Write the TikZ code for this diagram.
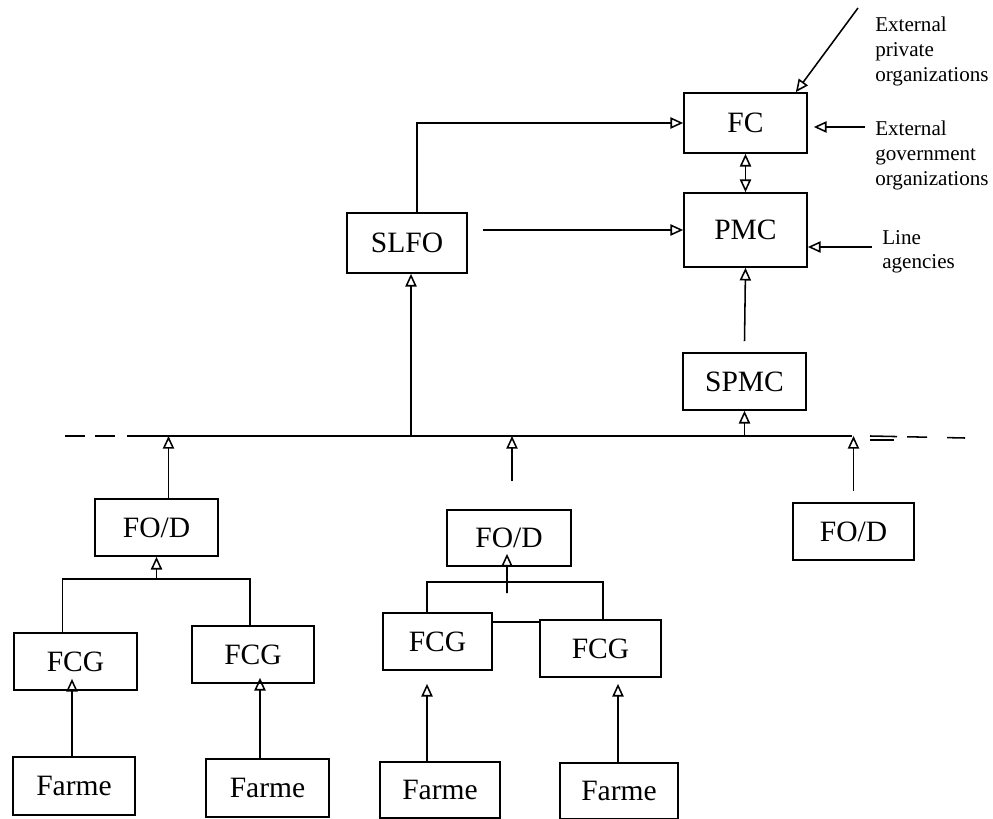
\documentclass[tikz,border=0pt]{standalone}
\usepackage{fontspec}
\setmainfont{Liberation Serif}
\usetikzlibrary{arrows.meta,calc}

\tikzset{
    unit/.style={draw, line width=1.2pt, minimum width=3.075cm, minimum height=1.425cm, inner sep=0pt, font=\fontsize{21}{25}\selectfont},
    link/.style={line width=1.1pt},
    arr/.style={link, -{Triangle[open,length=9pt,width=8pt]}},
    arrboth/.style={link, {Triangle[open,length=9pt,width=8pt]}-{Triangle[open,length=9pt,width=8pt]}},
    note/.style={align=left, inner sep=0pt, font=\fontsize{15}{17.5}\selectfont},
}

\begin{document}
\begin{tikzpicture}[x=0.025cm, y=-0.025cm]
    \useasboundingbox (0,0) rectangle (993,819);

    % Committees at the top
    \node[unit, minimum height=1.5cm] (fc) at (745.5,123) {FC};
    \node[unit, minimum height=1.85cm] (pmc) at (745.5,230) {PMC};
    \node[unit, minimum width=3cm, minimum height=1.5cm] (slfo) at (407,243) {SLFO};
    \node[unit] (spmc) at (744.5,381.5) {SPMC};

    % Outside bodies
    \node[note, anchor=north west] (extpriv) at (875,17) {External\\private\\organizations};
    \node[note, anchor=north west] (extgov) at (875,121) {External\\government\\organizations};
    \node[note, anchor=north west] (lineag) at (882,230) {Line\\agencies};
    \coordinate (privfrom) at (858,8);
    \coordinate (govfrom) at (865,127);
    \coordinate (linefrom) at (872,247);

    \draw[arr] (privfrom) -- ([xshift=-0.3cm]fc.north east);
    \draw[arr] (govfrom) -- ($(fc.east |- govfrom)+(6,0)$);
    \draw[arr] (linefrom) -- (pmc.east |- linefrom);

    \draw[arr] ([xshift=0.25cm]slfo.north) |- (fc.west);
    \draw[arr] ([xshift=0.375cm]slfo.east |- pmc.west) -- (pmc.west);
    \draw[arrboth] (fc.south) -- (pmc.north);
    \draw[arr] ([yshift=0.275cm]spmc.north) -- (pmc.south);

    % Draw the main line
    \coordinate (busLL) at (65,436);
    \coordinate (busL) at (127,436);
    \coordinate (busR) at (852,436);
    \coordinate (busRR) at (965,438);
    \draw[link, dash pattern=on 0.5cm off 0.25cm on 0.5cm off 0.3cm] (busLL) -- (busL);
    \draw[link] (busL) -- (busR);
    \draw[link, dash pattern=on 0.675cm off 0.25cm on 0.5cm off 0.5cm on 0.45cm] ($(busR)+(18,0)$) -- (busRR);
    \draw[link] ($(busR)+(18,4)$) -- ($(busR)+(42,4)$);

    \draw[arr] (spmc.south |- busL) -- (spmc.south);
    \draw[arr] ([xshift=0.1cm]slfo.south |- busL) -- ([xshift=0.1cm]slfo.south);

    % Federations
    \node[unit] (fod1) at (156.5,527.5) {FO/D};
    \node[unit, minimum width=3.1cm, minimum height=1.4cm] (fod2) at (509,538) {FO/D};
    \node[unit, minimum width=3.025cm] (fod3) at (853.5,531.5) {FO/D};

    \draw[arr] ([xshift=0.3cm]fod1.north) -- ([xshift=0.3cm]fod1.north |- busL);
    \draw[arr] ([xshift=0.075cm,yshift=0.7cm]fod2.north) -- ([xshift=0.075cm]fod2.north |- busL);
    \draw[arr] ([yshift=0.275cm]fod3.north) -- (fod3.north |- busL);

    % Groups and farmers
    \node[unit] (fcg1) at (75.5,661.5) {FCG};
    \node[unit, minimum width=3.05cm] (fcg2) at (253,654.5) {FCG};
    \node[unit, minimum width=2.725cm] (fcg3) at (437.5,641.5) {FCG};
    \node[unit, minimum width=3.025cm] (fcg4) at (600.5,648.5) {FCG};

    \node[unit, minimum width=3.05cm, minimum height=1.45cm] (farme1) at (74,786) {Farme};
    \node[unit, minimum height=1.45cm] (farme2) at (267.5,788) {Farme};
    \node[unit, minimum width=3cm, minimum height=1.4cm] (farme3) at (440,790) {Farme};
    \node[unit, minimum width=2.95cm, minimum height=1.4cm] (farme4) at (619,791) {Farme};

    \coordinate (join1) at (156.5,579);
    \draw[link] ([xshift=-0.325cm]fcg1.north) |- (join1) -| ([xshift=-0.075cm]fcg2.north);
    \draw[arr] (join1) -- (fod1.south);

    \coordinate (join2) at (507,582);
    \draw[link] ([xshift=-0.26cm]fcg3.north) |- (join2) -| ([xshift=0.06cm]fcg4.north);
    \draw[arr] ($(join2)+(0,11)$) -- ([xshift=-0.05cm,yshift=0.325cm]fod2.south);
    \draw[link] ([yshift=-0.25cm]fcg3.north east) -- ([yshift=-0.25cm]fcg3.north east -| fcg4.west);

    \coordinate (tip1) at ($(fcg1.south)+(-3.5,-12)$);
    \coordinate (tip2) at ($(fcg2.south)+(7,-6)$);
    \coordinate (tip3) at ($(fcg3.south)+(-10.5,13)$);
    \coordinate (tip4) at ($(fcg4.south)+(17.5,6)$);
    \draw[arr] (farme1.north -| tip1) -- (tip1);
    \draw[arr] (farme2.north -| tip2) -- (tip2);
    \draw[arr] (farme3.north -| tip3) -- (tip3);
    \draw[arr] (farme4.north -| tip4) -- (tip4);
\end{tikzpicture}
\end{document}
